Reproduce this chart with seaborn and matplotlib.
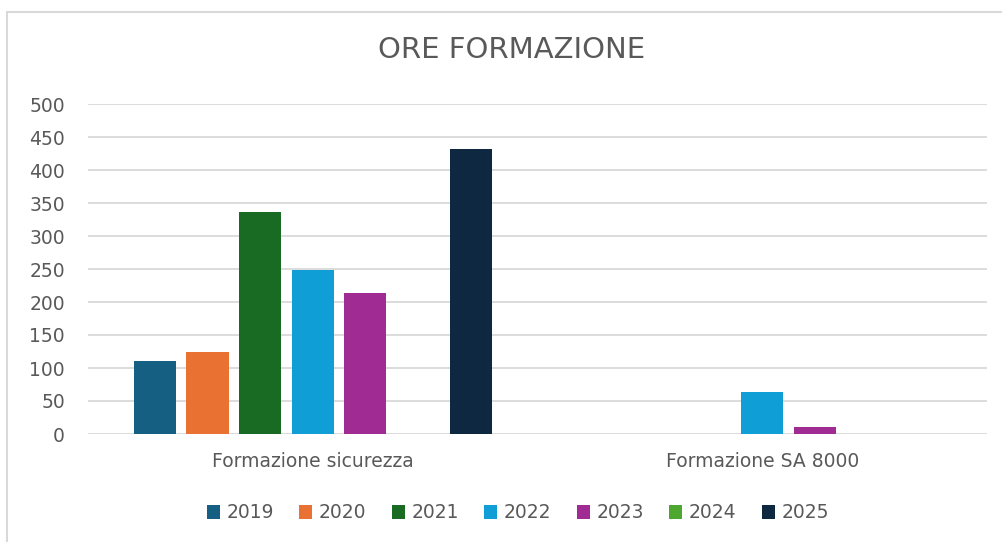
import matplotlib
matplotlib.use("Agg")
import matplotlib.pyplot as plt
import seaborn as sns
import pandas as pd
from matplotlib.patches import Rectangle, Patch

categories = ["Formazione sicurezza", "Formazione SA 8000"]
years = ["2019", "2020", "2021", "2022", "2023", "2024", "2025"]
sicurezza = [110, 125, 336, 248, 214, 0, 432]
sa8000 = [0, 0, 0, 64, 11, 0, 0]
colors = ["#156082", "#E97132", "#196B24", "#0F9ED5", "#A02B93", "#4EA72E", "#0E2841"]

rows = []
for y, v in zip(years, sicurezza):
    rows.append({"cat": categories[0], "year": y, "val": v})
for y, v in zip(years, sa8000):
    rows.append({"cat": categories[1], "year": y, "val": v})
df = pd.DataFrame(rows)

sns.set_theme(style="white")
plt.rcParams["font.family"] = ["DejaVu Sans"]

fig = plt.figure(figsize=(10.03, 5.42), dpi=100)
ax = fig.add_axes([88 / 1003, 1 - 434 / 542, (987 - 88) / 1003, 330 / 542])

sns.barplot(data=df, x="cat", y="val", hue="year", hue_order=years,
            palette=colors, width=0.82, gap=0.2, ax=ax, legend=False,
            linewidth=0, saturation=1)

ax.set_ylim(0, 500)
ax.set_yticks(range(0, 501, 50))
ax.set_xlim(-0.5, 1.5)
ax.yaxis.grid(True, color="#d9d9d9", linewidth=1.3)
ax.set_axisbelow(True)
for s in ax.spines.values():
    s.set_visible(False)
ax.set_xlabel("")
ax.set_ylabel("")
ax.tick_params(axis="y", labelsize=13.5, labelcolor="#595959", length=0, pad=16.5)
ax.tick_params(axis="x", labelsize=13.5, labelcolor="#595959", length=0, pad=13)

fig.text(512 / 1003, 1 - 50 / 542, "ORE FORMAZIONE", ha="center", va="center",
         fontsize=21, color="#595959")

handles = [Patch(facecolor=c, edgecolor="none", label=y) for c, y in zip(colors, years)]
fig.legend(handles=handles, loc="center", bbox_to_anchor=(518 / 1003, 1 - 513 / 542),
           ncol=7, frameon=False, fontsize=13.5, labelcolor="#595959",
           handlelength=0.7, handleheight=0.7, handletextpad=0.35, columnspacing=1.35)

fig.patches.append(Rectangle((7.5 / 1003, -0.05), 1.2, 1 - 11.5 / 542 + 0.05,
                             transform=fig.transFigure, fill=False,
                             edgecolor="#d9d9d9", linewidth=1.5))

fig.savefig("out.png", dpi=100)
